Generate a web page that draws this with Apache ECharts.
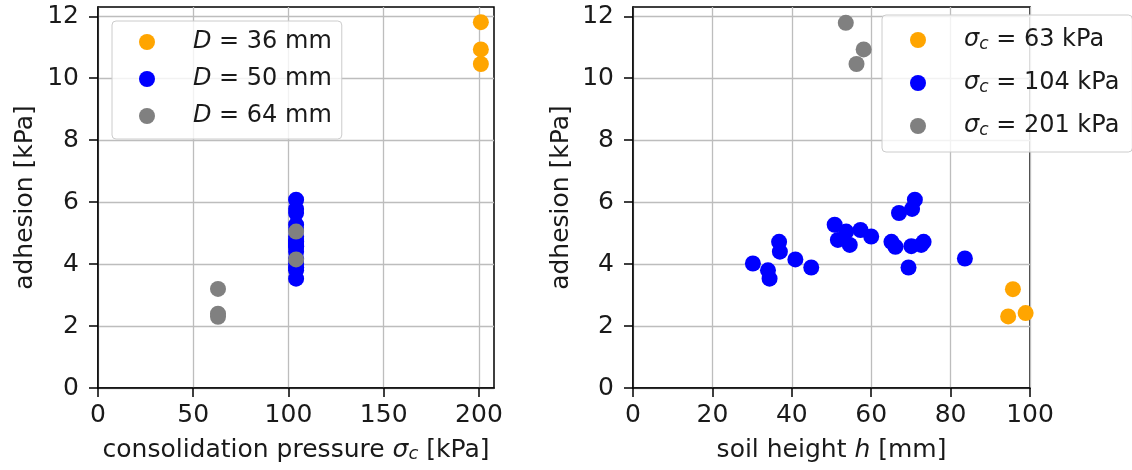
<!DOCTYPE html>
<html style="height: 100%">
<head>
<meta charset="UTF-8">
<title>Adhesion</title>
<script src="https://cdn.jsdelivr.net/npm/echarts@6/dist/echarts.min.js"></script>
</head>
<body style="height: 100%; margin: 0; background: #fff">
<div id="container" style="width: 1132px; height: 470px"></div>
<script type="text/javascript">
// left plot: adhesion vs consolidation pressure, grouped by diameter D
var pressD36 = [201, 201, 201];
var adhD36 = [11.81, 10.93, 10.46];
var pressD50 = [104, 104, 104, 104, 104, 104, 104, 104, 104, 104, 104, 104, 104, 104, 104, 104, 104, 104, 104, 104, 104];
var adhD50 = [4.02, 3.80, 3.53, 4.72, 4.40, 3.89, 5.27, 4.78, 4.62, 5.10, 4.89, 4.72, 4.56, 5.65, 3.89, 5.78, 6.08, 4.58, 4.62, 4.72, 4.18];
var pressD64 = [63, 63, 63, 104, 104];
var adhD64 = [3.20, 2.40, 2.30, 5.05, 4.15];

// right plot: adhesion vs soil height, grouped by pressure
var height63 = [95.7, 94.5, 98.9];
var adh63 = [3.19, 2.31, 2.42];
var height104 = [30.2, 34.0, 34.4, 36.8, 37.0, 40.9, 44.9, 50.8, 51.6, 53.7, 54.6, 57.3, 60.0, 65.1, 66.1, 67.0, 69.4, 70.3, 71.0, 70.1, 72.6, 73.2, 83.6];
var adh104 = [4.02, 3.80, 3.53, 4.72, 4.40, 4.15, 3.89, 5.27, 4.78, 5.05, 4.62, 5.10, 4.89, 4.72, 4.56, 5.65, 3.89, 5.78, 6.08, 4.58, 4.62, 4.72, 4.18];
var height201 = [53.6, 58.1, 56.3];
var adh201 = [11.79, 10.93, 10.46];

var leftNames = ['D = 36 mm', 'D = 50 mm', 'D = 64 mm'];
var rightNames = ['σc = 63 kPa', 'σc = 104 kPa', 'σc = 201 kPa'];
var leftTicksX = [0, 50, 100, 150, 200];
var ticksY = [0, 2, 4, 6, 8, 10, 12];

var colors = ['#ffa500', '#0000ff', '#808080'];
var font = 'DejaVu Sans';
var textColor = '#1a1a1a';
var fs = 25;   // axis text size
var lfs = 24;  // legend text size

function zip(xs, ys) {
    return xs.map(function (x, i) { return [x, ys[i]]; });
}

function makeRich(size) {
    return {
        g: {width: 33, fontSize: size, lineHeight: 26},
        i: {fontFamily: font, fontStyle: 'italic', fontSize: size, lineHeight: 26, color: textColor},
        s: {fontFamily: font, fontStyle: 'italic', fontSize: Math.round(size * 0.7), lineHeight: 15, verticalAlign: 'bottom', color: textColor},
        n: {fontFamily: font, fontSize: size, lineHeight: 26, color: textColor}
    };
}

function legendText(name) {
    if (name.indexOf('σc') === 0) {
        return '{g| }{i|σ}{s|c}{n|' + name.slice(2) + '}';
    }
    return '{g| }{i|D}{n|' + name.slice(1) + '}';
}

function xAxisBase(idx) {
    return {
        gridIndex: idx,
        type: 'value',
        nameLocation: 'middle',
        nameGap: 49,
        nameTextStyle: {fontFamily: font, fontSize: fs, color: textColor, rich: makeRich(fs)},
        axisLine: {lineStyle: {color: '#000', width: 1.5}},
        axisTick: {length: 9, lineStyle: {color: '#000', width: 1.5}},
        axisLabel: {margin: 15, fontFamily: font, fontSize: fs, color: textColor},
        splitLine: {show: true, lineStyle: {color: '#bdbdbd', width: 1.3}}
    };
}

function yAxisBase(idx, gap) {
    return {
        gridIndex: idx,
        type: 'value',
        min: 0,
        max: 12.3,
        interval: 2,
        name: 'adhesion [kPa]',
        nameLocation: 'middle',
        nameGap: gap,
        nameTextStyle: {fontFamily: font, fontSize: fs, color: textColor},
        axisLine: {lineStyle: {color: '#000', width: 1.5}},
        axisTick: {length: 9, customValues: ticksY, lineStyle: {color: '#000', width: 1.5}},
        axisLabel: {margin: 19, customValues: ticksY, fontFamily: font, fontSize: fs, color: textColor},
        splitLine: {show: true, lineStyle: {color: '#bdbdbd', width: 1.3}}
    };
}

var xLeft = xAxisBase(0);
xLeft.min = 0;
xLeft.max = 207.9;
xLeft.interval = 50;
xLeft.name = 'consolidation pressure {i|σ}{s|c}{n| [kPa]}';
xLeft.axisTick.customValues = leftTicksX;
xLeft.axisLabel.customValues = leftTicksX;

var xRight = xAxisBase(1);
xRight.min = 0;
xRight.max = 100;
xRight.interval = 20;
xRight.name = 'soil height {i|h}{n| [mm]}';

function legendBase(names, left, top, padding, gap) {
    return {
        data: names,
        orient: 'vertical',
        left: left,
        top: top,
        padding: padding,
        itemGap: gap,
        itemWidth: 16,
        itemHeight: 16,
        icon: 'circle',
        backgroundColor: 'rgba(255,255,255,0.8)',
        borderColor: '#cccccc',
        borderWidth: 1,
        borderRadius: 4,
        formatter: legendText,
        textStyle: {fontFamily: font, fontSize: lfs, lineHeight: 26, color: textColor, rich: makeRich(lfs)}
    };
}

function scatter(name, data, color, idx) {
    return {
        name: name,
        type: 'scatter',
        xAxisIndex: idx,
        yAxisIndex: idx,
        symbolSize: 16,
        itemStyle: {color: color, opacity: 1},
        data: data
    };
}

var option = {
    animation: false,
    backgroundColor: '#fff',
    grid: [
        {left: 98, top: 7, width: 396, height: 381, show: true, borderColor: '#000', borderWidth: 1.5, containLabel: false},
        {left: 633, top: 7, width: 397, height: 381, show: true, borderColor: '#000', borderWidth: 1.5, containLabel: false}
    ],
    xAxis: [xLeft, xRight],
    yAxis: [yAxisBase(0, 60), yAxisBase(1, 59)],
    legend: [
        legendBase(leftNames, 112, 21, [8, 10, 10, 27], 11),
        legendBase(rightNames, 882, 15, [12, 13, 13, 28], 17)
    ],
    series: [
        scatter(leftNames[0], zip(pressD36, adhD36), colors[0], 0),
        scatter(leftNames[1], zip(pressD50, adhD50), colors[1], 0),
        scatter(leftNames[2], zip(pressD64, adhD64), colors[2], 0),
        scatter(rightNames[0], zip(height63, adh63), colors[0], 1),
        scatter(rightNames[1], zip(height104, adh104), colors[1], 1),
        scatter(rightNames[2], zip(height201, adh201), colors[2], 1)
    ]
};

var myChart = echarts.init(document.getElementById('container'), null, {renderer: 'canvas'});
myChart.setOption(option);
</script>
</body>
</html>
